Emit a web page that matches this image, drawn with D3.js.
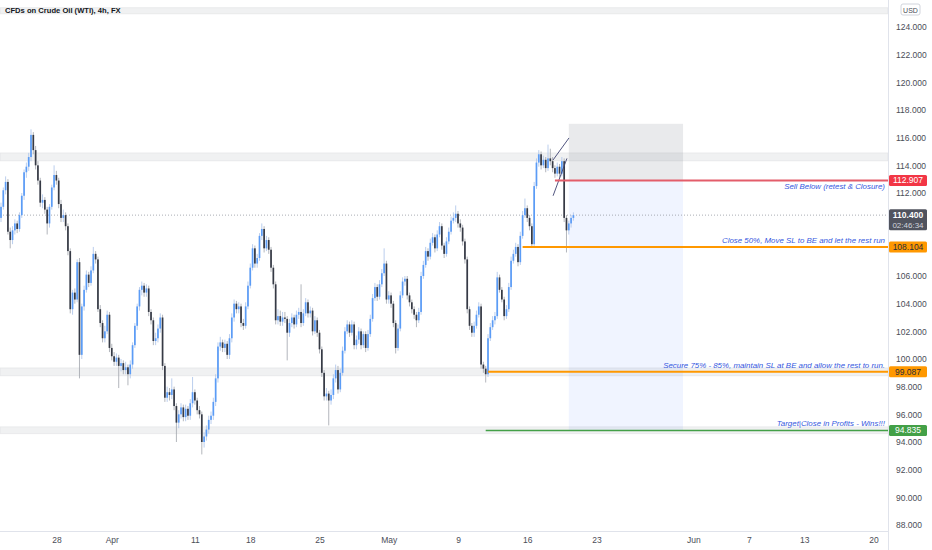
<!DOCTYPE html>
<html>
<head>
<meta charset="utf-8">
<script src="https://cdn.jsdelivr.net/npm/d3@7"></script>
<style>
  body { margin: 0; background: #fff; }
  text { font-family: "Liberation Sans", Arial, sans-serif; }
</style>
</head>
<body>
<div id="chart"></div>
<script>
// 4h candles [open, high, low, close], oldest first
var candles = [
  [110.2,111.3,109.9,111.0],[111.0,112.4,110.8,112.2],[112.2,113.2,111.9,112.8],[112.8,113.0,109.0,109.2],
  [109.2,109.5,108.0,108.6],[108.6,109.6,108.3,109.3],[109.3,110.1,109.0,109.8],[109.8,110.0,109.1,109.4],
  [109.4,110.6,109.2,110.4],[110.4,112.0,110.2,111.8],[111.8,113.7,111.5,113.5],[113.5,114.2,113.1,113.9],
  [113.9,114.9,113.6,114.6],[114.6,116.6,114.3,116.2],[116.2,116.4,114.8,115.1],[115.1,115.4,113.7,114.0],
  [114.0,114.3,112.6,112.9],[112.9,113.1,111.0,111.3],[111.3,111.9,110.9,111.5],[111.5,111.7,110.5,110.8],
  [110.8,111.0,109.0,109.8],[109.8,111.2,109.5,111.0],[111.0,112.6,110.8,112.4],[112.4,114.0,112.2,113.3],
  [113.3,113.6,112.6,112.9],[112.9,113.1,110.9,111.2],[111.2,111.5,109.9,110.2],[110.2,110.8,109.9,110.4],
  [110.4,110.6,109.3,109.6],[109.6,109.8,107.5,107.8],[107.8,108.0,103.3,103.6],[103.6,105.0,103.2,104.8],
  [104.8,105.1,104.0,104.3],[104.3,107.2,104.1,107.0],[107.0,107.3,98.6,100.3],[100.3,104.0,100.0,103.8],
  [103.8,105.3,103.5,105.0],[105.0,106.4,104.8,106.1],[106.1,106.3,105.2,105.5],[105.5,106.7,105.3,106.4],
  [106.4,108.1,106.2,107.6],[107.6,107.8,106.9,107.2],[107.2,107.4,103.4,103.6],[103.6,103.9,102.3,102.6],
  [102.6,102.8,101.2,101.5],[101.5,102.4,101.2,102.0],[102.0,103.5,101.8,103.2],[103.2,103.4,100.5,100.8],
  [100.8,101.1,99.9,100.2],[100.2,100.5,99.5,99.8],[99.8,100.4,99.5,100.1],[100.1,100.3,97.9,99.5],
  [99.5,100.0,99.1,99.7],[99.7,99.9,98.9,99.2],[99.2,99.8,98.9,99.4],[99.4,99.6,98.1,98.9],
  [98.9,99.9,98.6,99.6],[99.6,101.2,99.3,101.0],[101.0,102.6,100.8,102.4],[102.4,104.0,102.1,103.8],
  [103.8,105.2,103.5,105.0],[105.0,105.6,104.6,105.3],[105.3,105.5,104.5,104.8],[104.8,105.4,104.5,105.1],
  [105.1,105.3,103.1,103.4],[103.4,103.6,102.5,102.8],[102.8,103.0,101.0,101.3],[101.3,101.9,101.0,101.5],
  [101.5,102.5,101.2,102.2],[102.2,103.3,101.9,103.0],[103.0,103.2,99.2,99.5],[99.5,99.7,96.9,97.2],
  [97.2,98.0,96.9,97.6],[97.6,97.9,97.0,97.4],[97.4,98.6,97.1,97.8],[97.8,98.0,96.3,96.6],
  [96.6,96.8,94.0,95.4],[95.4,96.3,95.0,96.0],[96.0,96.8,95.7,96.5],[96.5,96.7,95.5,95.8],
  [95.8,96.7,95.5,96.4],[96.4,96.6,95.6,95.9],[95.9,97.1,95.6,96.8],[96.8,98.7,96.5,97.6],
  [97.6,97.8,96.7,97.0],[97.0,97.2,96.0,96.3],[96.3,96.6,95.7,96.0],[96.0,96.2,93.1,94.0],
  [94.0,94.7,93.6,94.4],[94.4,95.2,94.1,94.9],[94.9,95.9,94.6,95.6],[95.6,96.2,95.3,95.9],
  [95.9,97.2,95.6,96.9],[96.9,98.9,96.6,98.6],[98.6,101.2,98.3,100.9],[100.9,101.6,100.6,101.2],
  [101.2,101.4,100.5,100.8],[100.8,101.4,100.5,101.1],[101.1,101.3,100.0,100.3],[100.3,101.8,100.0,101.5],
  [101.5,103.3,101.2,103.0],[103.0,104.3,102.7,104.0],[104.0,104.2,103.3,103.6],[103.6,104.1,103.3,103.8],
  [103.8,104.0,102.3,102.6],[102.6,102.9,102.1,102.4],[102.4,104.1,102.2,103.8],[103.8,105.6,103.6,105.3],
  [105.3,106.9,105.1,106.6],[106.6,108.3,106.4,108.0],[108.0,108.2,106.6,106.9],[106.9,107.6,106.6,107.3],
  [107.3,109.1,107.1,108.9],[108.9,109.8,108.6,109.4],[109.4,109.6,107.7,108.0],[108.0,108.9,107.8,108.6],
  [108.6,108.8,107.6,107.9],[107.9,108.1,106.3,106.6],[106.6,106.8,105.1,105.4],[105.4,105.6,102.5,102.8],
  [102.8,103.6,102.5,103.1],[103.1,103.5,102.4,102.7],[102.7,103.4,102.4,103.0],[103.0,103.4,102.6,102.9],
  [102.9,103.1,99.9,101.9],[101.9,102.9,101.6,102.6],[102.6,103.3,102.3,103.0],[103.0,103.2,102.2,102.5],
  [102.5,103.5,102.3,103.2],[103.2,103.7,102.9,103.4],[103.4,105.4,102.3,102.6],[102.6,103.6,102.4,103.3],
  [103.3,104.4,103.1,104.1],[104.1,104.3,103.0,103.3],[103.3,103.8,103.0,103.5],[103.5,103.7,101.7,102.0],
  [102.0,103.1,101.8,102.8],[102.8,103.0,101.6,101.9],[101.9,102.1,100.4,100.7],[100.7,100.9,98.7,99.0],
  [99.0,99.2,97.0,97.3],[97.3,97.9,97.0,97.5],[97.5,97.7,95.2,97.0],[97.0,97.8,96.7,97.4],
  [97.4,98.9,97.1,98.6],[98.6,99.6,98.3,99.2],[99.2,99.5,97.5,97.8],[97.8,99.3,97.6,99.0],
  [99.0,100.9,98.8,100.6],[100.6,102.3,100.4,102.0],[102.0,102.8,101.8,102.5],[102.5,102.7,101.6,101.9],
  [101.9,102.8,101.7,102.5],[102.5,102.7,100.7,101.0],[101.0,101.7,100.7,101.4],[101.4,102.3,101.1,102.0],
  [102.0,102.2,100.7,101.0],[101.0,102.0,100.8,101.8],[101.8,102.0,100.5,100.8],[100.8,102.1,100.6,101.8],
  [101.8,103.2,101.6,102.9],[102.9,104.7,102.7,104.4],[104.4,105.5,104.2,105.2],[105.2,105.4,104.2,104.5],
  [104.5,105.7,104.3,105.4],[105.4,106.5,105.2,106.2],[106.2,108.0,106.0,106.9],[106.9,107.1,104.0,104.3],
  [104.3,104.9,104.0,104.6],[104.6,104.8,103.7,104.0],[104.0,104.2,102.3,102.6],[102.6,102.8,100.4,100.8],
  [100.8,102.5,100.6,102.2],[102.2,104.9,102.0,104.6],[104.6,105.9,104.4,105.6],[105.6,106.0,105.3,105.8],
  [105.8,106.0,104.3,104.6],[104.6,104.8,103.8,104.1],[104.1,104.3,103.3,103.6],[103.6,103.8,102.9,103.2],
  [103.2,103.4,102.3,102.8],[102.8,103.7,102.6,103.4],[103.4,106.3,103.2,106.0],[106.0,107.1,105.8,106.8],
  [106.8,108.1,106.6,107.8],[107.8,108.0,107.1,107.4],[107.4,108.7,107.2,108.4],[108.4,109.1,108.2,108.8],
  [108.8,109.0,107.7,108.0],[108.0,109.3,107.8,109.0],[109.0,109.9,108.8,109.6],[109.6,109.8,107.9,108.2],
  [108.2,108.4,107.3,107.6],[107.6,108.8,107.4,108.5],[108.5,109.5,108.3,109.2],[109.2,110.3,109.0,110.0],
  [110.0,110.6,109.8,110.2],[110.2,111.1,109.9,110.5],[110.5,110.7,109.5,109.8],[109.8,110.1,109.2,109.5],
  [109.5,109.7,108.2,108.5],[108.5,108.7,106.9,107.2],[107.2,107.4,103.3,103.6],[103.6,103.8,102.1,102.4],
  [102.4,102.6,101.6,101.9],[101.9,102.7,101.6,102.4],[102.4,103.5,102.2,103.2],[103.2,104.1,103.0,103.8],
  [103.8,104.0,99.3,99.6],[99.6,99.8,99.0,99.3],[99.3,99.5,98.3,98.9],[98.9,101.8,98.7,101.5],
  [101.5,102.6,101.3,102.3],[102.3,103.1,102.1,102.8],[102.8,103.4,102.5,103.1],[103.1,106.3,102.9,105.9],
  [105.9,106.1,104.8,105.0],[105.0,105.2,104.1,104.3],[104.3,104.5,102.8,103.1],[103.1,103.9,102.9,103.6],
  [103.6,105.5,103.4,105.2],[105.2,107.4,105.0,107.1],[107.1,107.9,106.9,107.6],[107.6,108.4,107.4,108.1],
  [108.1,108.3,106.7,107.0],[107.0,109.2,106.8,108.9],[108.9,110.7,108.7,110.4],[110.4,111.6,110.2,110.9],
  [110.9,111.1,109.9,110.2],[110.2,110.4,109.3,109.6],[109.6,109.8,108.1,108.3],[108.3,112.8,108.1,112.5],
  [112.5,114.5,112.3,114.2],[114.2,115.1,113.9,114.8],[114.8,115.0,113.7,114.0],[114.0,114.7,113.8,114.4],
  [114.4,114.6,113.5,113.8],[113.8,115.5,113.6,114.5],[114.5,115.2,114.0,114.3],[114.3,114.6,113.5,113.8],
  [113.8,114.0,113.1,113.4],[113.4,114.2,113.2,113.9],[113.9,114.1,113.1,113.4],[113.4,114.6,113.2,114.3],
  [114.3,114.5,109.9,110.2],[110.2,110.4,107.7,109.3],[109.3,110.0,109.0,109.8],[109.8,110.4,109.5,110.2],
  [110.2,110.6,110.0,110.4]
];

// time axis: bar index of each labelled day
var tickBars   = [24, 48, 84, 108, 138, 168, 198, 228, 258, 300, 324, 348, 378];
var tickLabels = ["28", "Apr", "11", "18", "25", "May", "9", "16", "23", "Jun", "7", "13", "20"];
var priceTicks = [88, 90, 92, 94, 96, 98, 100, 102, 104, 106, 108, 110, 112, 114, 116, 118, 120, 122, 124];

// support / resistance zones
var zoneLow  = [124.95, 114.32, 98.78, 94.60];
var zoneHigh = [125.40, 114.90, 99.36, 95.10];

// trade levels
var levelPrice  = [112.907, 108.104, 99.087, 94.835];
var levelStart  = [240, 226, 211, 210];
var levelLabels = ["112.907", "108.104", "99.087", "94.835"];
var levelNotes  = ["Sell Below (retest & Closure)",
                   "Close 50%, Move SL to BE and let the rest run",
                   "Secure 75% - 85%, maintain SL at BE and allow the rest to run.",
                   "Target|Close in Profits - Wins!!!"];

// short position box [start bar, end bar], stop top price
var positionBars = [246, 295.5];
var positionStop = 117.0;

// rising wedge lines [bar1, price1, bar2, price2]
var wedge = [[239.2, 114.39, 246.1, 115.98], [239.2, 111.80, 245.2, 114.50]];

var lastPrice = 110.4;
var countdown = "02:46:34";

function init()
{
  var width = 932, height = 550;
  var plotRight = 888, plotBottom = 531;

  var svg = d3.select("#chart")
    .append("svg")
    .attr("width", width)
    .attr("height", height)
    .style("display", "block");

  svg.append("rect").attr("width", width).attr("height", height).attr("fill", "#fff");

  var x = d3.scaleLinear().domain([0, 248]).range([1, 573.4]);
  var y = d3.scaleLinear().domain([88, 124]).range([525, 27]);

  var plot = svg.append("g");

  // position tool
  plot.append("rect")
    .attr("x", x(positionBars[0]))
    .attr("width", x(positionBars[1]) - x(positionBars[0]))
    .attr("y", y(positionStop))
    .attr("height", y(levelPrice[0]) - y(positionStop))
    .attr("fill", "rgba(120,123,134,0.16)");

  plot.append("rect")
    .attr("x", x(positionBars[0]))
    .attr("width", x(positionBars[1]) - x(positionBars[0]))
    .attr("y", y(levelPrice[0]))
    .attr("height", y(levelPrice[3]) - y(levelPrice[0]))
    .attr("fill", "rgba(41,98,255,0.07)");

  // zones
  plot.selectAll(".zone")
    .data(zoneLow)
    .enter()
    .append("rect")
      .attr("class", "zone")
      .attr("x", 0)
      .attr("width", plotRight)
      .attr("y", function(d, i) {return y(zoneHigh[i]);})
      .attr("height", function(d, i) {return y(d) - y(zoneHigh[i]);})
      .attr("fill", "rgba(120,123,134,0.11)")
      .attr("stroke", "rgba(120,123,134,0.09)")
      .attr("stroke-width", 1);

  // last price dotted line
  plot.append("line")
    .attr("x1", 0).attr("x2", plotRight)
    .attr("y1", y(lastPrice)).attr("y2", y(lastPrice))
    .attr("stroke", "#9598a1")
    .attr("stroke-width", 0.8)
    .attr("stroke-dasharray", "1,2");

  // candles
  var c = plot.selectAll(".candle")
    .data(candles)
    .enter()
    .append("g")
    .attr("class", "candle");

  c.append("line")
    .attr("x1", function(d, i) {return x(i);})
    .attr("x2", function(d, i) {return x(i);})
    .attr("y1", function(d) {return y(d[1]);})
    .attr("y2", function(d) {return y(d[2]);})
    .attr("stroke", function(d) {return d[3] >= d[0] ? "#a9c1e8" : "#a0a3ab";})
    .attr("stroke-width", 0.8);

  c.append("rect")
    .attr("x", function(d, i) {return x(i) - 0.85;})
    .attr("width", 1.7)
    .attr("y", function(d) {return y(Math.max(d[0], d[3]));})
    .attr("height", function(d) {return Math.max(0.8, Math.abs(y(d[0]) - y(d[3])));})
    .attr("fill", function(d) {return d[3] >= d[0] ? "#5b9cf6" : "#363a45";});

  // wedge
  plot.selectAll(".wedge")
    .data(wedge)
    .enter()
    .append("line")
      .attr("x1", function(d) {return x(d[0]);})
      .attr("y1", function(d) {return y(d[1]);})
      .attr("x2", function(d) {return x(d[2]);})
      .attr("y2", function(d) {return y(d[3]);})
      .attr("stroke", "#3d4270")
      .attr("stroke-width", 0.9);

  // trade levels
  var levelColor = ["#e35d6a", "#ff9800", "#ff9800", "#43a047"];
  var levelWidth = [2, 2, 2, 1.4];
  plot.selectAll(".level")
    .data(levelPrice)
    .enter()
    .append("line")
      .attr("x1", function(d, i) {return x(levelStart[i]);})
      .attr("x2", plotRight)
      .attr("y1", function(d) {return y(d);})
      .attr("y2", function(d) {return y(d);})
      .attr("stroke", function(d, i) {return levelColor[i];})
      .attr("stroke-width", function(d, i) {return levelWidth[i];});

  var noteOffset = [9, -4, -4, -4];
  plot.selectAll(".note")
    .data(levelNotes)
    .enter()
    .append("text")
      .attr("x", 885)
      .attr("y", function(d, i) {return y(levelPrice[i]) + noteOffset[i];})
      .attr("text-anchor", "end")
      .style("font-size", "7.9px")
      .style("font-style", "italic")
      .style("fill", "#3558e0")
      .text(function(d) {return d;});

  // borders
  svg.append("line")
    .attr("x1", plotRight + 0.5).attr("x2", plotRight + 0.5)
    .attr("y1", 0).attr("y2", height)
    .attr("stroke", "#e0e3eb");
  svg.append("line")
    .attr("x1", 0).attr("x2", plotRight)
    .attr("y1", plotBottom + 0.5).attr("y2", plotBottom + 0.5)
    .attr("stroke", "#e0e3eb");

  // axes; tick labels hidden behind price labels are dropped, as on the original
  var labelCentres = levelPrice.map(function(p) {return y(p);}).concat([y(lastPrice) + 4]);
  var visibleTicks = priceTicks.filter(function(t) {
    return labelCentres.every(function(c) {return Math.abs(y(t) - c) > 9;});
  });

  var yAxis = d3.axisRight(y)
    .tickValues(visibleTicks)
    .tickSize(0)
    .tickPadding(8)
    .tickFormat(d3.format(".3f"));

  var ya = svg.append("g")
    .attr("transform", "translate(" + plotRight + ",0)")
    .call(yAxis);
  ya.select(".domain").remove();
  ya.selectAll("text").style("font-size", "8.5px").style("fill", "#4a4d57")
    .style("font-family", "'Liberation Sans', Arial, sans-serif");

  var xAxis = d3.axisBottom(x)
    .tickValues(tickBars)
    .tickSize(0)
    .tickPadding(6)
    .tickFormat(function(d, i) {return tickLabels[i];});

  var xa = svg.append("g")
    .attr("transform", "translate(0," + plotBottom + ")")
    .call(xAxis);
  xa.select(".domain").remove();
  xa.selectAll("text").style("font-size", "8.5px").style("fill", "#4a4d57")
    .style("font-family", "'Liberation Sans', Arial, sans-serif");

  // price labels on the axis
  var labelFill = ["#f23645", "#ff9800", "#ff9800", "#43a047"];
  var labelText = ["#fff", "#2a2e39", "#2a2e39", "#fff"];
  var labels = svg.selectAll(".plabel")
    .data(levelPrice)
    .enter()
    .append("g")
    .attr("transform", function(d) {return "translate(" + (plotRight + 1) + "," + y(d) + ")";});

  labels.append("rect")
    .attr("x", 0).attr("y", -5.5)
    .attr("width", 38).attr("height", 11)
    .attr("rx", 1.5)
    .attr("fill", function(d, i) {return labelFill[i];});

  labels.append("text")
    .attr("x", 19).attr("y", 3)
    .attr("text-anchor", "middle")
    .style("font-size", "8.5px")
    .style("fill", function(d, i) {return labelText[i];})
    .text(function(d, i) {return levelLabels[i];});

  var cur = svg.append("g")
    .attr("transform", "translate(" + (plotRight + 1) + "," + y(lastPrice) + ")");
  cur.append("rect")
    .attr("x", 0).attr("y", -6)
    .attr("width", 38).attr("height", 21)
    .attr("rx", 1.5)
    .attr("fill", "#50535e");
  cur.append("text")
    .attr("x", 19).attr("y", 3)
    .attr("text-anchor", "middle")
    .style("font-size", "8.5px").style("font-weight", "bold").style("fill", "#fff")
    .text(d3.format(".3f")(lastPrice));
  cur.append("text")
    .attr("x", 19).attr("y", 12.5)
    .attr("text-anchor", "middle")
    .style("font-size", "8px").style("fill", "#d1d4dc")
    .text(countdown);

  // USD badge
  svg.append("rect")
    .attr("x", 901).attr("y", 4)
    .attr("width", 19).attr("height", 11)
    .attr("rx", 2)
    .attr("fill", "#fff")
    .attr("stroke", "#d1d4dc");
  svg.append("text")
    .attr("x", 910.5).attr("y", 12.5)
    .attr("text-anchor", "middle")
    .style("font-size", "7px").style("fill", "#4a4d57")
    .text("USD");

  // title
  svg.append("text")
    .attr("x", 5).attr("y", 13)
    .style("font-size", "7.6px")
    .style("font-weight", "bold")
    .style("fill", "#131722")
    .text("CFDs on Crude Oil (WTI), 4h, FX");
}

window.onload = init();
</script>
</body>
</html>
